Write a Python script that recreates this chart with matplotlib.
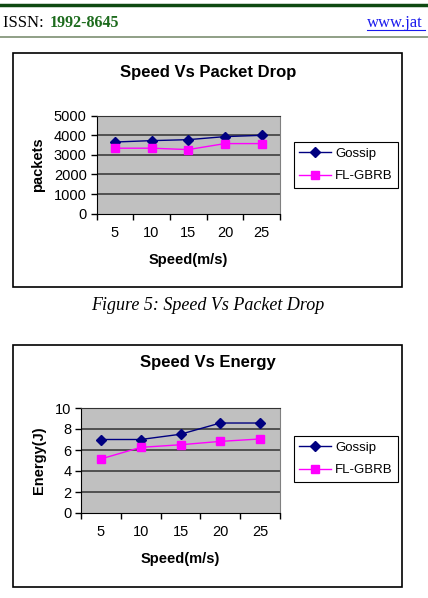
import numpy as np
import matplotlib
matplotlib.use("Agg")
import matplotlib.pyplot as plt
from matplotlib.patches import Rectangle
from matplotlib.lines import Line2D

# data
speeds = ['5', '10', '15', '20', '25']
gossip_drop = [3650, 3720, 3770, 3925, 3990]
flgbrb_drop = [3335, 3335, 3265, 3570, 3570]
gossip_energy = [7.0, 7.0, 7.5, 8.57, 8.57]
flgbrb_energy = [5.15, 6.25, 6.5, 6.82, 7.05]
drop_ticks = [0, 1000, 2000, 3000, 4000, 5000]
energy_ticks = [0, 2, 4, 6, 8, 10]

W, H = 428, 598
fig = plt.figure(figsize=(W / 100, H / 100), dpi=100)
sans = 'Liberation Sans'
serif = 'Liberation Serif'


def rect(x0, y0, x1, y1):
    return [x0 / W, 1 - y1 / H, (x1 - x0) / W, (y1 - y0) / H]


def fx(x):
    return x / W


def fy(y):
    return 1 - y / H


# page header
fig.add_artist(Line2D([0, 1], [fy(4.5), fy(4.5)], color='#0f4a12', lw=2.5))
fig.add_artist(Line2D([0, 1], [fy(37), fy(37)], color='#7d8f72', lw=1.2))
fig.text(fx(3), fy(23), 'ISSN: ', family=serif, fontsize=12, va='center', ha='left')
fig.text(fx(50), fy(23), '1992-8645', family=serif, fontsize=11.5, fontweight='bold',
         color='#1d6b1d', va='center', ha='left')
fig.text(fx(367), fy(23), 'www.jat', family=serif, fontsize=12, color='#1a1aee',
         va='center', ha='left')
fig.add_artist(Line2D([fx(367), fx(425)], [fy(30), fy(30)], color='#1a1aee', lw=0.8))

xlab_text = 'Speed(m/s)'


def chart(box, plot, title, title_y, ylab, ylab_x, xlab_y, leg_y,
          g_vals, f_vals, yticks):
    bx0, by0, bx1, by1 = box
    fig.add_artist(Rectangle((fx(bx0), fy(by1)), fx(bx1 - bx0), (by1 - by0) / H,
                             transform=fig.transFigure, fill=False,
                             edgecolor='black', lw=1.2))
    fig.text(fx(208), fy(title_y), title, family=sans, fontsize=12, fontweight='bold',
             ha='center', va='center')
    ax = fig.add_axes(rect(*plot))
    ax.set_facecolor('#c0c0c0')
    x = np.arange(len(speeds)) + 0.5
    ax.plot(x, g_vals, color='#000080', marker='D', markersize=5, lw=1, label='Gossip')
    ax.plot(x, f_vals, color='#ff00ff', marker='s', markersize=6, lw=1, label='FL-GBRB')
    ax.set_xlim(0, len(speeds))
    ax.set_ylim(yticks[0], yticks[-1])
    ax.set_yticks(yticks)
    ax.set_yticklabels([str(t) for t in yticks], family=sans, fontsize=10.5)
    ax.set_xticks(np.arange(len(speeds) + 1))
    ax.set_xticklabels([])
    ax.set_xticks(x, minor=True)
    ax.set_xticklabels(speeds, minor=True, family=sans, fontsize=10.5)
    ax.tick_params(axis='x', which='major', length=4, direction='out', width=1)
    ax.tick_params(axis='x', which='minor', length=0, pad=9)
    ax.tick_params(axis='y', length=4, direction='out', width=1, pad=3)
    for t in yticks[1:-1]:
        ax.axhline(t, color='#333333', lw=1.1, zorder=1)
    ax.spines['top'].set_color('#333333')
    ax.spines['right'].set_color('#808080')
    ax.spines['left'].set_color('black')
    ax.spines['bottom'].set_color('black')
    fig.text(fx(ylab_x), fy((plot[1] + plot[3]) / 2), ylab, family=sans, fontsize=10.5,
             fontweight='bold', rotation=90, ha='center', va='center')
    fig.text(fx((plot[0] + plot[2]) / 2), fy(xlab_y), xlab_text, family=sans,
             fontsize=10.5, fontweight='bold', ha='center', va='center')
    leg = ax.legend(loc='upper left', bbox_to_anchor=(fx(294), fy(leg_y)),
                    bbox_transform=fig.transFigure, frameon=True, fancybox=False,
                    edgecolor='black', framealpha=1, borderaxespad=0,
                    prop={'family': sans, 'size': 9.5}, handlelength=2.4,
                    handletextpad=0.3, labelspacing=0.8, borderpad=0.4)
    leg.get_frame().set_linewidth(0.8)
    return ax


chart((13, 53, 402, 287), (96.5, 115.5, 280, 213.7), 'Speed Vs Packet Drop', 72,
      'packets', 38, 260, 142, gossip_drop, flgbrb_drop, drop_ticks)
fig.text(fx(208), fy(305), 'Figure 5: Speed Vs Packet Drop', family=serif, fontsize=13,
         style='italic', ha='center', va='center')
chart((13, 345, 402, 587), (81, 408, 280, 513), 'Speed Vs Energy', 363,
      'Energy(J)', 39, 559, 436, gossip_energy, flgbrb_energy, energy_ticks)

fig.savefig('out.png', dpi=100)
